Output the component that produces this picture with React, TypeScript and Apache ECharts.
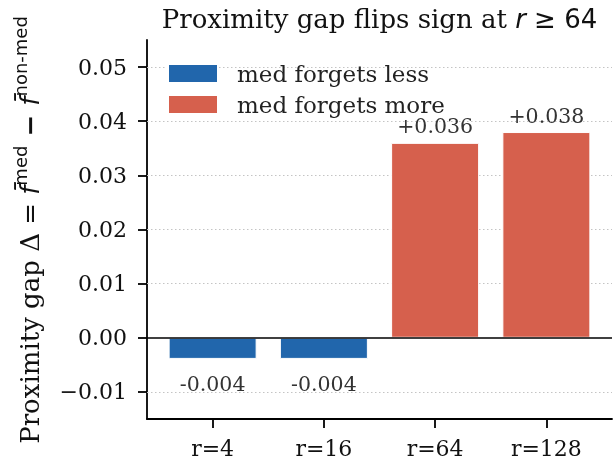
import React, { useEffect, useRef } from "react";
import * as echarts from "echarts";

const categories = ["r=4", "r=16", "r=64", "r=128"];
const gaps = [-0.0039, -0.0039, 0.036, 0.038];
const yTicks = [-0.01, 0, 0.01, 0.02, 0.03, 0.04, 0.05];
const gridValues = [-0.01, 0.01, 0.02, 0.03, 0.04, 0.05];
const legendNames = ["med forgets less", "med forgets more"];
const colors = ["#2166ac", "#d6604d"];

const SERIF = "DejaVu Serif";
const SANS = "DejaVu Sans";

export default function App() {
  const ref = useRef<HTMLDivElement>(null);
  useEffect(() => {
    if (!ref.current) return;
    const chart = echarts.init(ref.current, null, { renderer: "svg" });
    const xIdx = categories.map((_, i) => i);
    const neg = gaps.map((v, i) => [i, v]).filter((d) => d[1] < 0);
    const pos = gaps.map((v, i) => [i, v]).filter((d) => d[1] >= 0);
    const fmtTick = (v: number) =>
      v < 0 ? "\u2212" + Math.abs(v).toFixed(2) : v.toFixed(2);
    chart.setOption({
      animation: false,
      grid: { left: 147, right: 1, top: 40, bottom: 42 },
      legend: {
        data: legendNames,
        orient: "vertical",
        left: 167,
        top: 62,
        padding: 0,
        icon: "rect",
        itemWidth: 50,
        itemHeight: 19,
        itemGap: 8,
        textStyle: {
          fontFamily: SERIF,
          fontSize: 23,
          color: "#222",
          padding: [0, 0, 0, 14],
        },
      },
      xAxis: {
        type: "value",
        min: -0.59,
        max: 3.59,
        axisLine: { show: true, onZero: false, lineStyle: { color: "#000", width: 1.8 } },
        axisTick: {
          show: true,
          customValues: xIdx,
          length: 9,
          lineStyle: { color: "#000", width: 1.8 },
        },
        axisLabel: {
          customValues: xIdx,
          formatter: (v: number) => categories[Math.round(v)],
          fontFamily: SERIF,
          fontSize: 22,
          color: "#111",
          margin: 18,
        },
        splitLine: { show: false },
      },
      yAxis: {
        type: "value",
        min: -0.015,
        max: 0.055,
        axisLine: { show: true, onZero: false, lineStyle: { color: "#000", width: 1.8 } },
        axisTick: {
          show: true,
          customValues: yTicks,
          length: 9,
          lineStyle: { color: "#000", width: 1.8 },
        },
        axisLabel: {
          customValues: yTicks,
          formatter: fmtTick,
          fontFamily: SERIF,
          fontSize: 22,
          color: "#111",
          margin: 20,
        },
        splitLine: { show: false },
      },
      series: [
        {
          name: legendNames[0],
          type: "bar",
          data: neg,
          barWidth: 88,
          barGap: "-100%",
          z: 2,
          itemStyle: { color: colors[0], borderColor: "#fff", borderWidth: 1 },
          label: {
            show: true,
            position: "bottom",
            distance: 15,
            formatter: (p: any) => p.value[1].toFixed(3),
            fontFamily: SERIF,
            fontSize: 20.5,
            color: "#333",
          },
          markLine: {
            silent: true,
            symbol: "none",
            z: 1,
            label: { show: false },
            lineStyle: { color: "#c4c4c4", width: 1, type: [1.5, 2.5] },
            data: gridValues.map((v) => ({ yAxis: v })),
          },
        },
        {
          name: legendNames[1],
          type: "bar",
          data: pos,
          barWidth: 88,
          barGap: "-100%",
          z: 2,
          itemStyle: { color: colors[1], borderColor: "#fff", borderWidth: 1 },
          label: {
            show: true,
            position: "top",
            distance: 6,
            formatter: (p: any) => "+" + p.value[1].toFixed(3),
            fontFamily: SERIF,
            fontSize: 20.5,
            color: "#333",
          },
          markLine: {
            silent: true,
            symbol: "none",
            z: 6,
            label: { show: false },
            lineStyle: { color: "#000", width: 1.6, type: "solid" },
            data: [{ yAxis: 0 }],
          },
        },
      ],
      graphic: [
        {
          type: "text",
          x: 379.5,
          y: 19,
          style: {
            text: "{a|Proximity gap flips sign at }{i|r}{b| \u2265 64}",
            align: "center",
            verticalAlign: "middle",
            rich: {
              a: { fontFamily: SERIF, fontSize: 26, fill: "#111" },
              i: { fontFamily: SANS, fontStyle: "italic", fontSize: 26, fill: "#111" },
              b: { fontFamily: SANS, fontSize: 26, fill: "#111" },
            },
          },
        },
        {
          type: "text",
          x: 30,
          y: 230,
          rotation: Math.PI / 2,
          style: {
            text:
              "{a|Proximity gap \u0394 = }{f|f\u0304}{s|med}{m| \u2212 }{f|f\u0304}{s|non-med}",
            align: "center",
            verticalAlign: "middle",
            rich: {
              a: { fontFamily: SERIF, fontSize: 26, fill: "#111" },
              f: { fontFamily: SANS, fontStyle: "italic", fontSize: 26, fill: "#111" },
              m: { fontFamily: SANS, fontSize: 26, fill: "#111", fontWeight: "bold" },
              s: {
                fontFamily: SANS,
                fontSize: 18,
                fill: "#111",
                padding: [0, 0, 20, 0],
              },
            },
          },
        },
      ],
    });
    return () => chart.dispose();
  }, []);
  return (
    <div
      ref={ref}
      style={{ position: "fixed", left: 0, top: 0, width: 613, height: 461 }}
    />
  );
}
